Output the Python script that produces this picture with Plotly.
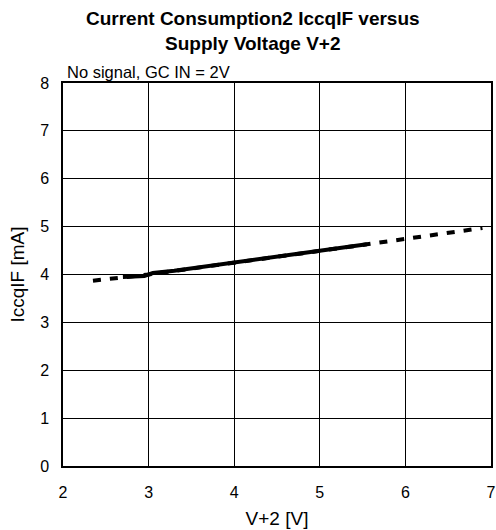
import plotly.graph_objects as go

# IccqIF vs V+2, full (dashed) curve and measured (solid) segment
V_DASH = [2.35, 2.7, 3.0, 5.55, 6.9]
I_DASH = [3.87, 3.95, 4.0, 4.63, 4.97]
V_SOLID = [2.7, 2.95, 3.05, 3.3, 5.55]
I_SOLID = [3.95, 3.97, 4.03, 4.08, 4.63]

X_TICKS = [2, 3, 4, 5, 6, 7]
Y_TICKS = [0, 1, 2, 3, 4, 5, 6, 7, 8]

TITLE = "<b>Current Consumption2 IccqIF versus<br>Supply Voltage V+2</b>"
NOTE = "No signal, GC IN = 2V"

FONT = "Liberation Sans, Arial, sans-serif"

fig = go.Figure()
fig.add_trace(go.Scatter(x=V_DASH, y=I_DASH, mode="lines",
                         line=dict(color="black", width=4, dash="8px,9px")))
fig.add_trace(go.Scatter(x=V_SOLID, y=I_SOLID, mode="lines",
                         line=dict(color="black", width=4)))

fig.update_layout(
    width=496, height=530, showlegend=False,
    plot_bgcolor="white", paper_bgcolor="white",
    margin=dict(l=63, r=5, t=83, b=64),
    font=dict(family=FONT, size=16, color="black"),
    annotations=[
        dict(text=TITLE, xref="paper", yref="paper", x=0.444, y=1.136,
             xanchor="center", yanchor="middle", showarrow=False,
             font=dict(size=19)),
        dict(text=NOTE, xref="paper", yref="paper", x=0.004, y=1.029,
             xanchor="left", yanchor="middle", showarrow=False,
             font=dict(size=16.5)),
    ],
)
fig.update_xaxes(range=[2, 7], tickvals=X_TICKS, showgrid=True, gridcolor="black",
                 gridwidth=1, showline=True, linecolor="black", linewidth=1.5,
                 mirror=True, zeroline=False, ticks="", ticklabelstandoff=11,
                 automargin=False, title=dict(text="V+2 [V]", standoff=12))
fig.update_yaxes(range=[0, 8], tickvals=Y_TICKS, showgrid=True, gridcolor="black",
                 gridwidth=1, showline=True, linecolor="black", linewidth=1.5,
                 mirror=True, zeroline=False, ticks="", ticklabelstandoff=9,
                 automargin=False, title=dict(text="IccqIF [mA]", standoff=10))

# drop the default 8px body margin so the figure fills the window exactly
fig.write_html("out.html", config={"displayModeBar": False},
               post_script="document.body.style.margin = '0';")
